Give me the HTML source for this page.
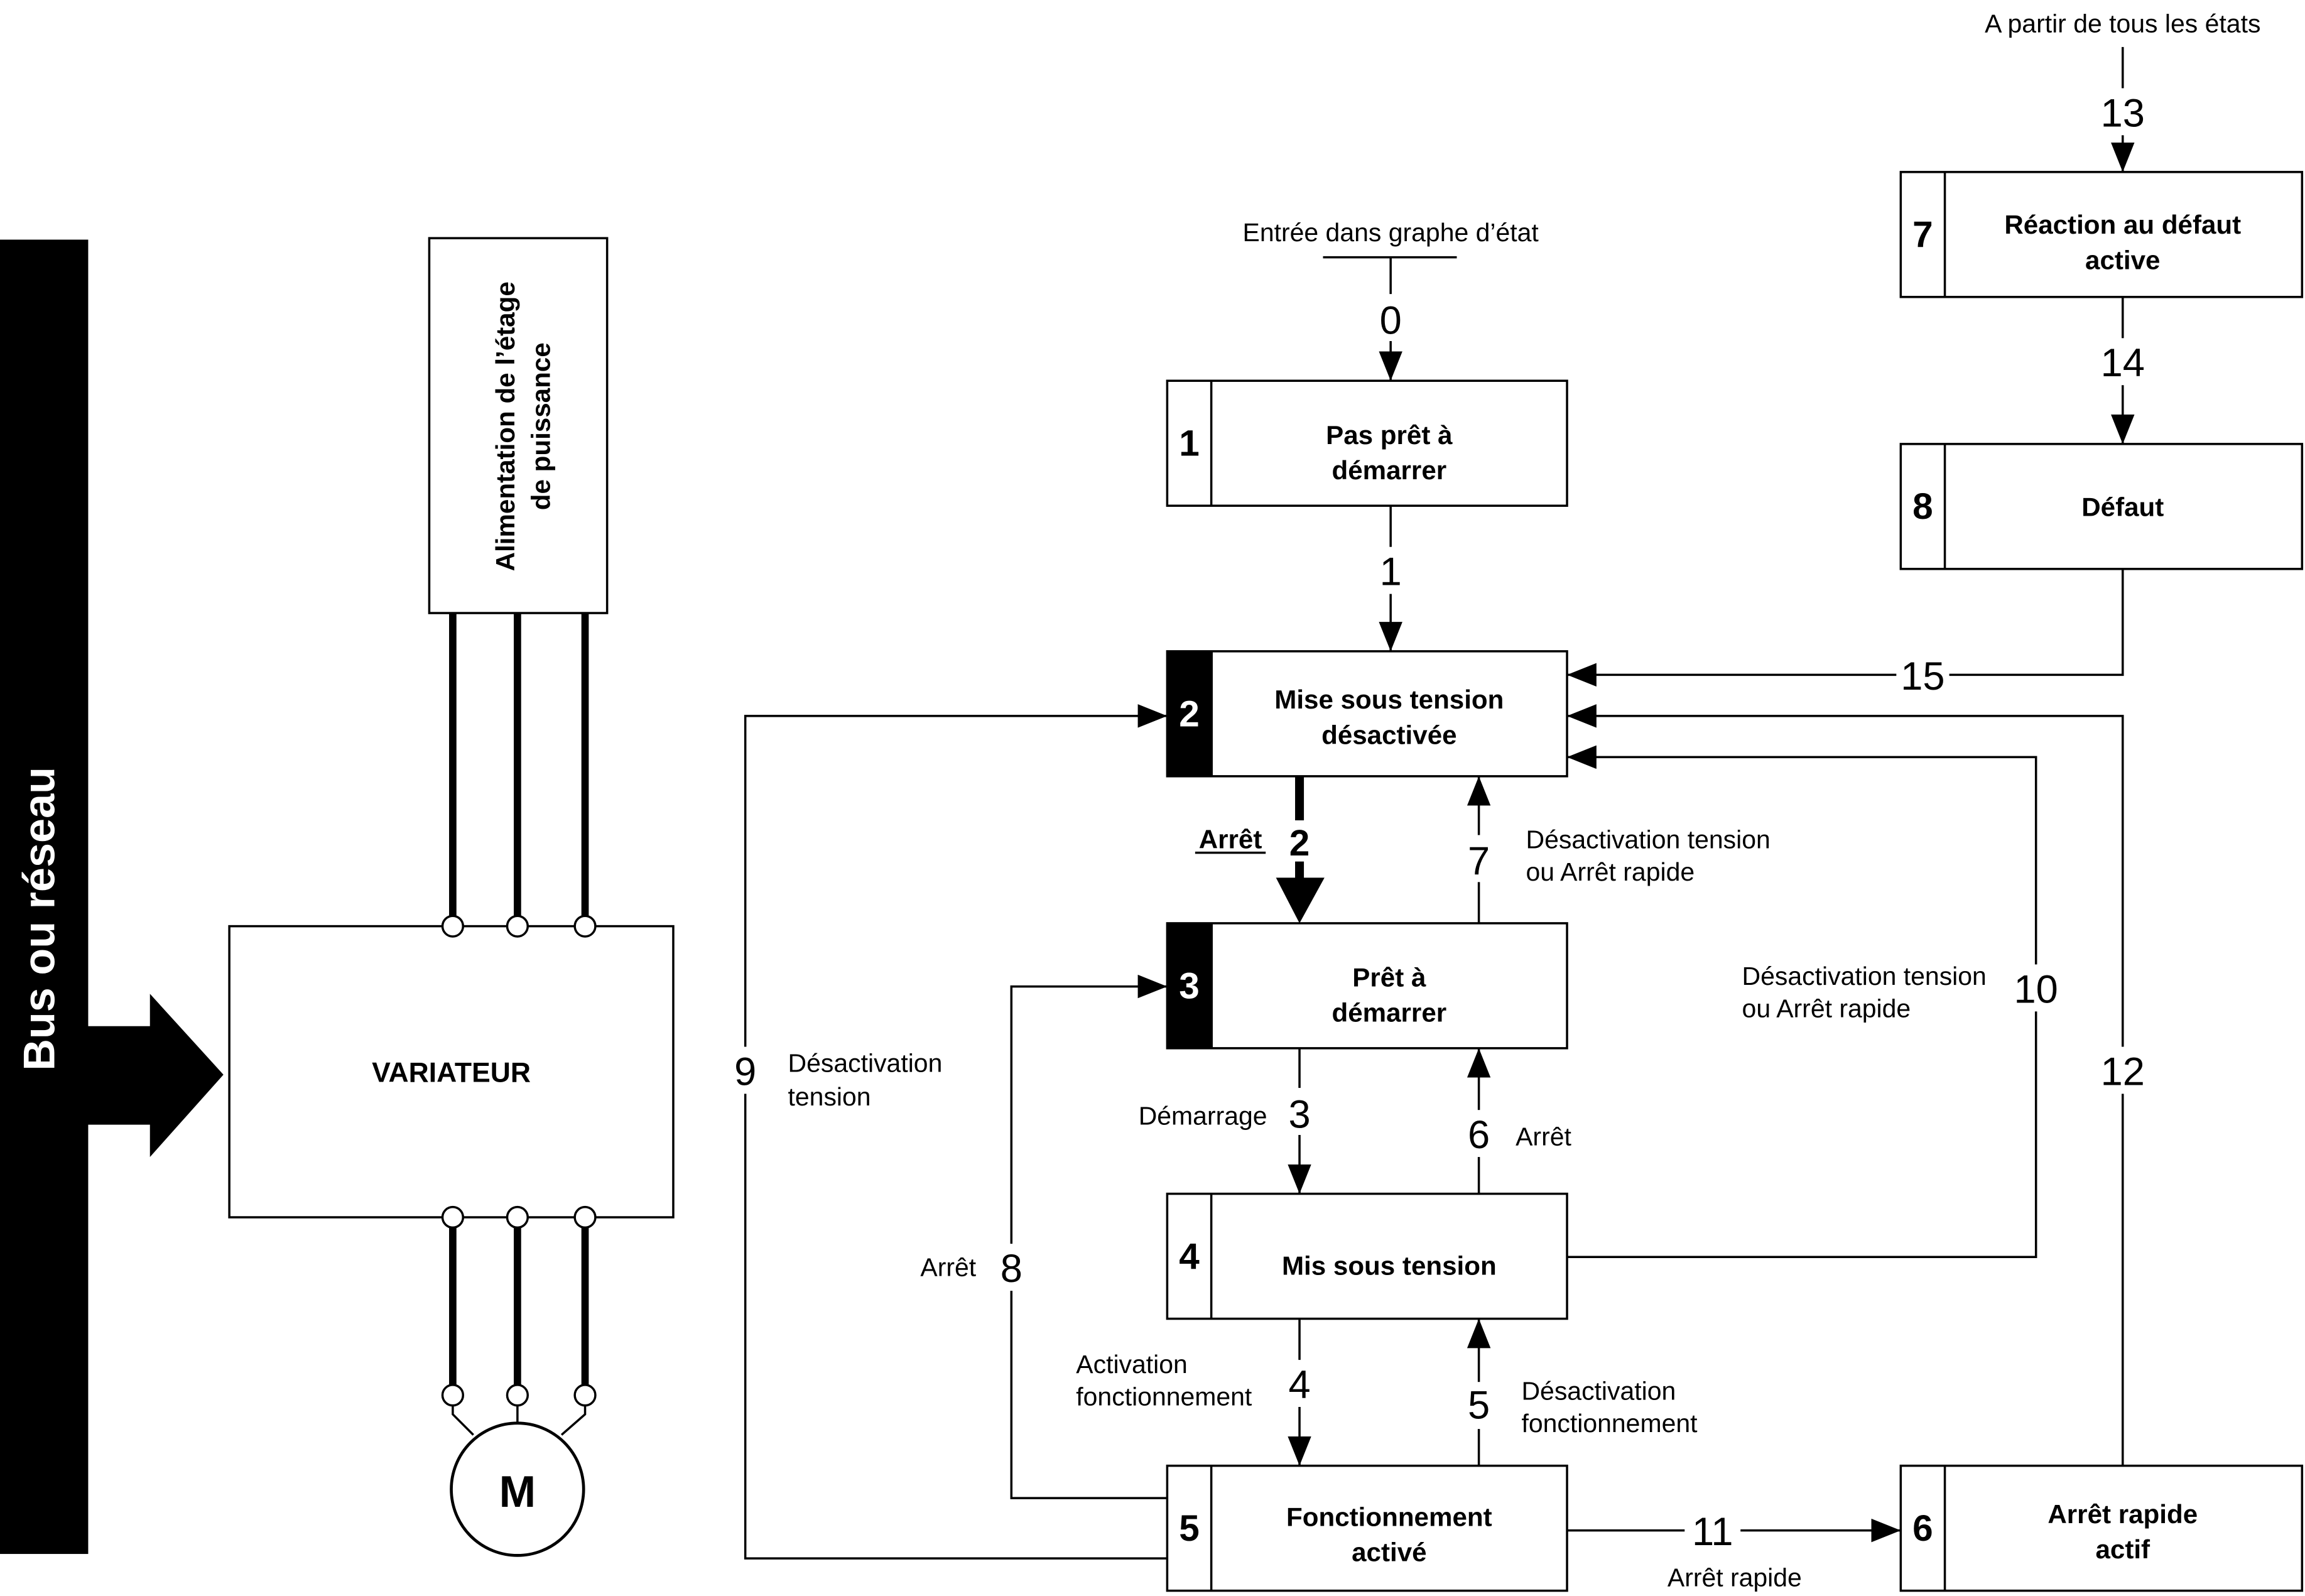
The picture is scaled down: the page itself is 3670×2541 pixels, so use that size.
<!DOCTYPE html>
<html><head><meta charset="utf-8"><style>
html,body{margin:0;padding:0;background:#fff}
svg{display:block}
text{font-family:"Liberation Sans",Arial,sans-serif;fill:#000}
.l{font-size:17.5px}
.n{font-size:27px}
.b{font-size:18px;font-weight:bold}
.bn{font-size:25px;font-weight:bold}
</style></head><body>
<svg width="3670" height="2541" viewBox="0 0 1568 1085.6" preserveAspectRatio="none" xmlns="http://www.w3.org/2000/svg">
<defs>
<marker id="a" markerWidth="20" markerHeight="16" refX="20" refY="8" orient="auto" markerUnits="userSpaceOnUse" viewBox="0 0 20 16"><path d="M0,0 L20,8 L0,16 z" fill="#000"/></marker>
</defs>
<rect width="1568" height="1086" fill="#fff"/>
<rect x="0" y="163" width="60" height="894" fill="#000"/>
<text transform="translate(37,625) rotate(-90)" text-anchor="middle" style="font-size:30px;font-weight:bold;fill:#fff">Bus ou réseau</text>
<path d="M58,698 L102,698 L102,676 L152,731 L102,787 L102,765 L58,765 z" fill="#000"/>
<rect x="292" y="162" width="121" height="255" fill="#fff" stroke="#000" stroke-width="1.5"/>
<text transform="translate(350,290) rotate(-90)" text-anchor="middle" class="b">Alimentation de l’étage</text>
<text transform="translate(374,290) rotate(-90)" text-anchor="middle" class="b">de puissance</text>
<g stroke="#000" stroke-width="5">
<line x1="308" y1="417" x2="308" y2="623"/><line x1="352" y1="417" x2="352" y2="623"/><line x1="398" y1="417" x2="398" y2="623"/>
<line x1="308" y1="835" x2="308" y2="942"/><line x1="352" y1="835" x2="352" y2="942"/><line x1="398" y1="835" x2="398" y2="942"/>
</g>
<rect x="156" y="630" width="302" height="198" fill="#fff" stroke="#000" stroke-width="1.5"/>
<text x="307" y="736" text-anchor="middle" class="b" style="font-size:19px">VARIATEUR</text>
<g fill="#fff" stroke="#000" stroke-width="1.5">
<circle cx="308" cy="630" r="7"/><circle cx="352" cy="630" r="7"/><circle cx="398" cy="630" r="7"/>
<circle cx="308" cy="828" r="7"/><circle cx="352" cy="828" r="7"/><circle cx="398" cy="828" r="7"/>
<circle cx="308" cy="949" r="7"/><circle cx="352" cy="949" r="7"/><circle cx="398" cy="949" r="7"/>
</g>
<g stroke="#000" stroke-width="1.5" fill="none">
<polyline points="308,956 308,962 322,976"/><line x1="352" y1="956" x2="352" y2="968"/><polyline points="398,956 398,962 382,976"/>
</g>
<circle cx="352" cy="1013" r="45" fill="#fff" stroke="#000" stroke-width="2"/>
<text x="352" y="1025" text-anchor="middle" style="font-size:30px;font-weight:bold">M</text>

<g stroke="#000" stroke-width="1.5" fill="none">
<line x1="900" y1="175" x2="991" y2="175"/>
<line x1="946" y1="175" x2="946" y2="259" marker-end="url(#a)"/>
<line x1="946" y1="344" x2="946" y2="443" marker-end="url(#a)"/>
<line x1="1006" y1="628" x2="1006" y2="528" marker-end="url(#a)"/>
<line x1="884" y1="713" x2="884" y2="812" marker-end="url(#a)"/>
<line x1="1006" y1="812" x2="1006" y2="713" marker-end="url(#a)"/>
<line x1="884" y1="897" x2="884" y2="997" marker-end="url(#a)"/>
<line x1="1006" y1="997" x2="1006" y2="897" marker-end="url(#a)"/>
<polyline points="794,1019 688,1019 688,671 794,671" marker-end="url(#a)"/>
<polyline points="794,1060 507,1060 507,487 794,487" marker-end="url(#a)"/>
<polyline points="1066,855 1385,855 1385,515 1066,515" marker-end="url(#a)"/>
<polyline points="1444,997 1444,487 1066,487" marker-end="url(#a)"/>
<polyline points="1444,387 1444,459 1066,459" marker-end="url(#a)"/>
<line x1="1444" y1="32" x2="1444" y2="117" marker-end="url(#a)"/>
<line x1="1444" y1="202" x2="1444" y2="302" marker-end="url(#a)"/>
<line x1="1066" y1="1041" x2="1293" y2="1041" marker-end="url(#a)"/>
</g>
<line x1="884" y1="528" x2="884" y2="600" stroke="#000" stroke-width="6"/>
<path d="M868,597 L901,597 L884,628 z" fill="#000"/>

<g fill="#fff">
<rect x="934" y="200" width="24" height="32"/><rect x="934" y="372" width="24" height="32"/>
<rect x="994" y="568" width="24" height="32"/><rect x="872" y="740" width="24" height="32"/>
<rect x="994" y="755" width="24" height="32"/><rect x="872" y="925" width="24" height="32"/>
<rect x="994" y="940" width="24" height="32"/><rect x="676" y="846" width="24" height="32"/>
<rect x="495" y="712" width="24" height="32"/><rect x="1368" y="656" width="34" height="32"/>
<rect x="1427" y="712" width="34" height="32"/><rect x="1290" y="445" width="36" height="30"/>
<rect x="1427" y="60" width="34" height="32"/><rect x="1427" y="230" width="34" height="32"/>
<rect x="1146" y="1026" width="38" height="30"/>
<rect x="874" y="558" width="20" height="28"/>
</g>
<g class="n" text-anchor="middle">
<text x="946" y="227" class="n">0</text><text x="946" y="398" class="n">1</text>
<text x="1006" y="595" class="n">7</text><text x="884" y="767" class="n">3</text>
<text x="1006" y="781" class="n">6</text><text x="884" y="951" class="n">4</text>
<text x="1006" y="965" class="n">5</text><text x="688" y="872" class="n">8</text>
<text x="507" y="738" class="n">9</text><text x="1385" y="682" class="n">10</text>
<text x="1444" y="738" class="n">12</text><text x="1308" y="469" class="n">15</text>
<text x="1444" y="86" class="n">13</text><text x="1444" y="256" class="n">14</text>
<text x="1165" y="1051" class="n">11</text>
</g>
<text x="884" y="582" text-anchor="middle" class="bn" style="font-size:25px">2</text>
<text x="837" y="577" text-anchor="middle" class="b">Arrêt</text>
<line x1="813" y1="580" x2="861" y2="580" stroke="#000" stroke-width="1.5"/>

<g class="l">
<text x="946" y="164" text-anchor="middle">Entrée dans graphe d’état</text>
<text x="1444" y="22" text-anchor="middle">A partir de tous les états</text>
<text x="1038" y="577">Désactivation tension</text><text x="1038" y="599">ou Arrêt rapide</text>
<text x="862" y="765" text-anchor="end">Démarrage</text>
<text x="1031" y="779">Arrêt</text>
<text x="732" y="934">Activation</text><text x="732" y="956">fonctionnement</text>
<text x="1035" y="952">Désactivation</text><text x="1035" y="974">fonctionnement</text>
<text x="664" y="868" text-anchor="end">Arrêt</text>
<text x="536" y="729">Désactivation</text><text x="536" y="752">tension</text>
<text x="1185" y="670">Désactivation tension</text><text x="1185" y="692">ou Arrêt rapide</text>
<text x="1180" y="1079" text-anchor="middle">Arrêt rapide</text>
</g>

<g stroke="#000" stroke-width="1.5" fill="#fff">
<rect x="794" y="259" width="272" height="85"/><line x1="824" y1="259" x2="824" y2="344"/>
<rect x="794" y="443" width="272" height="85"/>
<rect x="794" y="628" width="272" height="85"/>
<rect x="794" y="812" width="272" height="85"/><line x1="824" y1="812" x2="824" y2="897"/>
<rect x="794" y="997" width="272" height="85"/><line x1="824" y1="997" x2="824" y2="1082"/>
<rect x="1293" y="997" width="273" height="85"/><line x1="1323" y1="997" x2="1323" y2="1082"/>
<rect x="1293" y="117" width="273" height="85"/><line x1="1323" y1="117" x2="1323" y2="202"/>
<rect x="1293" y="302" width="273" height="85"/><line x1="1323" y1="302" x2="1323" y2="387"/>
</g>
<rect x="794" y="443" width="31" height="85" fill="#000"/>
<rect x="794" y="628" width="31" height="85" fill="#000"/>
<g class="bn" text-anchor="middle">
<text x="809" y="310">1</text>
<text x="809" y="494" style="fill:#fff">2</text>
<text x="809" y="679" style="fill:#fff">3</text>
<text x="809" y="863">4</text>
<text x="809" y="1048">5</text>
<text x="1308" y="1048">6</text>
<text x="1308" y="168">7</text>
<text x="1308" y="353">8</text>
</g>
<g class="b" text-anchor="middle">
<text x="945" y="302">Pas prêt à</text><text x="945" y="326">démarrer</text>
<text x="945" y="482">Mise sous tension</text><text x="945" y="506">désactivée</text>
<text x="945" y="671">Prêt à</text><text x="945" y="695">démarrer</text>
<text x="945" y="867">Mis sous tension</text>
<text x="945" y="1038">Fonctionnement</text><text x="945" y="1062">activé</text>
<text x="1444" y="1036">Arrêt rapide</text><text x="1444" y="1060">actif</text>
<text x="1444" y="159">Réaction au défaut</text><text x="1444" y="183">active</text>
<text x="1444" y="351">Défaut</text>
</g>
</svg>
</body></html>
